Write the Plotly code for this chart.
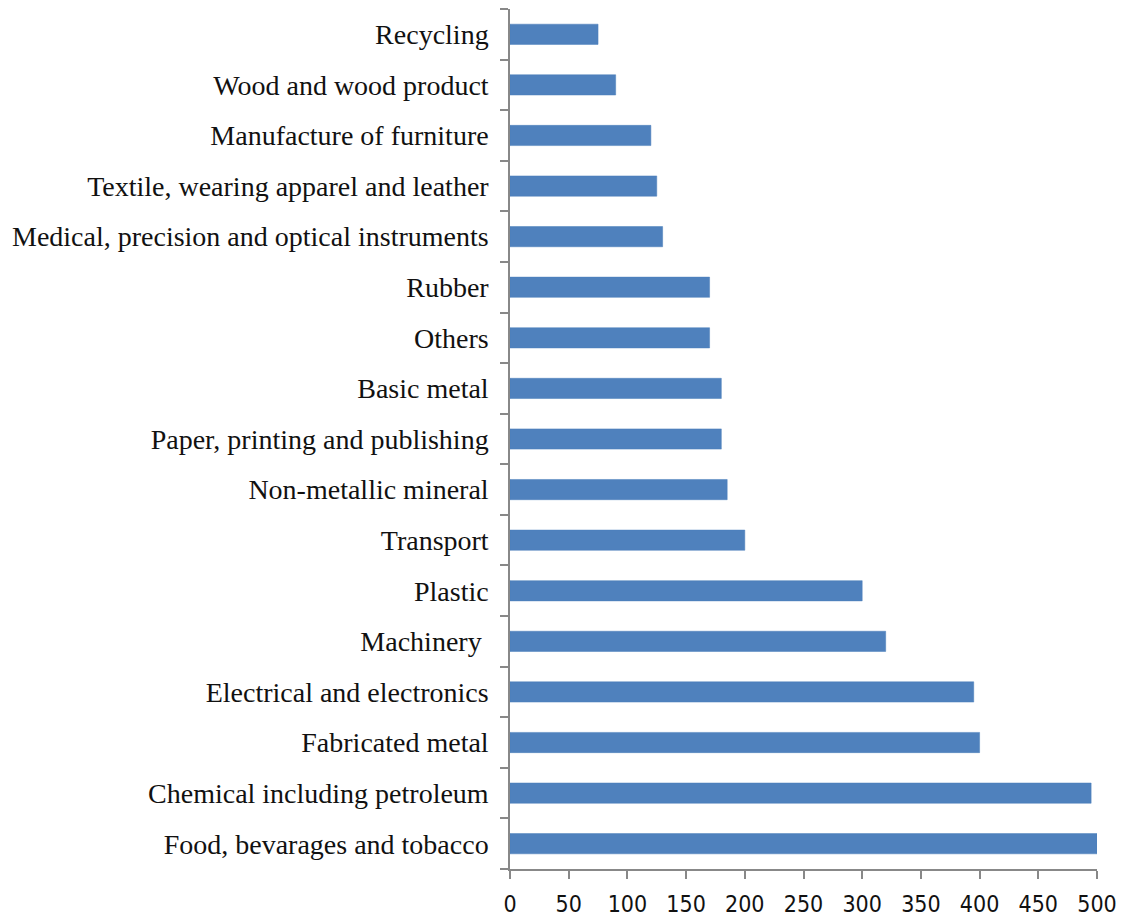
import plotly.graph_objects as go

categories = [
    "Food, bevarages and tobacco",
    "Chemical including petroleum",
    "Fabricated metal",
    "Electrical and electronics",
    "Machinery ",
    "Plastic",
    "Transport",
    "Non-metallic mineral",
    "Paper, printing and publishing",
    "Basic metal",
    "Others",
    "Rubber",
    "Medical, precision and optical instruments",
    "Textile, wearing apparel and leather",
    "Manufacture of furniture",
    "Wood and wood product",
    "Recycling",
]
values = [500, 495, 400, 395, 320, 300, 200, 185, 180, 180, 170, 170, 130, 125, 120, 90, 75]
x_ticks = [0, 50, 100, 150, 200, 250, 300, 350, 400, 450, 500]

fig = go.Figure(go.Bar(
    x=values, y=categories, orientation="h",
    marker=dict(color="#4F81BD", line=dict(color="#4A7EBB", width=0.5)),
    width=0.4,
))

fig.update_layout(
    width=1123, height=916,
    margin=dict(l=510, r=26, t=9, b=47),
    plot_bgcolor="white", paper_bgcolor="white",
    showlegend=False,
    bargap=0.6,
)
fig.update_xaxes(
    range=[0, 500], tickvals=x_ticks, ticktext=[str(v) for v in x_ticks],
    automargin=False,
    showgrid=False, zeroline=False,
    showline=True, linecolor="#888888", linewidth=1.5,
    ticks="outside", ticklen=8, tickcolor="#888888", tickwidth=1.5,
    tickfont=dict(family="'Liberation Sans Narrow', 'DejaVu Sans Condensed', sans-serif", size=23, color="#111111"),
    ticklabelstandoff=6,
)
fig.update_yaxes(
    categoryorder="array", categoryarray=categories,
    range=[-0.5, len(categories) - 0.5],
    automargin=False,
    showgrid=False, zeroline=False,
    showline=True, linecolor="#888888", linewidth=1.5,
    ticks="outside", ticklen=8, tickcolor="#888888", tickwidth=1.5,
    tickson="boundaries",
    tickfont=dict(family="'Liberation Serif', 'Times New Roman', serif", size=28, color="#111111"),
    ticklabelstandoff=14,
)

fig.write_html("out.html")
